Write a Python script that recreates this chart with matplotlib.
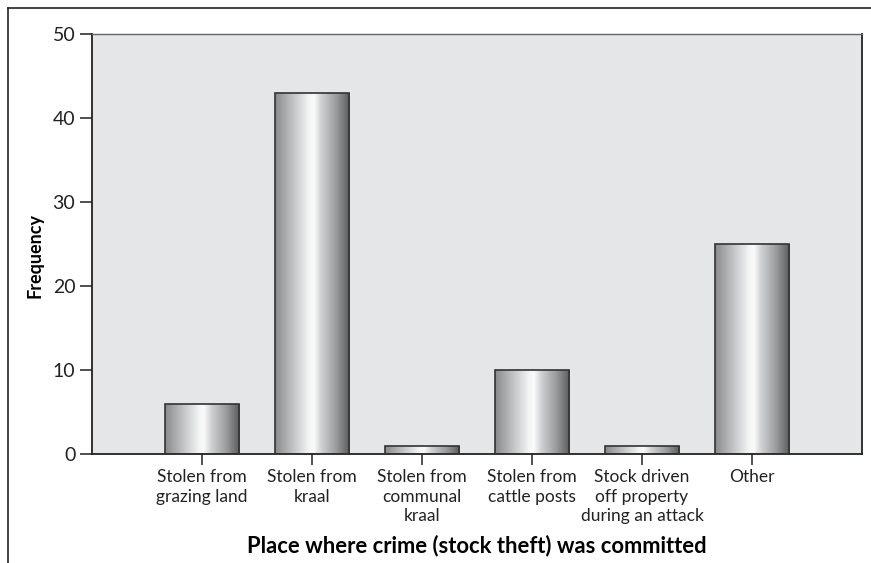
import numpy as np
import matplotlib.pyplot as plt
from matplotlib.colors import LinearSegmentedColormap
from matplotlib.lines import Line2D

categories = ["Stolen from\ngrazing land", "Stolen from\nkraal", "Stolen from\ncommunal\nkraal",
              "Stolen from\ncattle posts", "Stock driven\noff property\nduring an attack", "Other"]
frequency = [6, 43, 1, 10, 1, 25]
y_ticks = [0, 10, 20, 30, 40, 50]

plt.rcParams['font.family'] = ['Lato', 'DejaVu Sans']

fig = plt.figure(figsize=(8.71, 5.63), dpi=100)
ax = fig.add_axes([92 / 871, 1 - 454 / 563, 770 / 871, 420 / 563])
ax.set_facecolor('#e5e6e7')

# cylinder-like shading across each bar
shade = LinearSegmentedColormap.from_list('cyl', [
    (0.0, '#8a8a8c'), (0.25, '#c4c5c7'), (0.45, '#f2f3f3'), (0.52, '#fbfbfb'),
    (0.62, '#cfd0d1'), (0.82, '#9a9b9d'), (1.0, '#5a5b5d')])
grad = np.linspace(0, 1, 256).reshape(1, -1)

x = np.arange(1, len(categories) + 1)
width = 0.68
bars = ax.bar(x, frequency, width=width, color='none', edgecolor='#333333', linewidth=1.2, zorder=3)
for b in bars:
    x0, w, h = b.get_x(), b.get_width(), b.get_height()
    im = ax.imshow(grad, cmap=shade, aspect='auto', extent=(x0, x0 + w, 0, h), zorder=2)
    im.set_clip_path(b)

ax.set_xlim(0, 7)
ax.set_ylim(0, 50)
ax.set_xticks(x)
ax.set_xticklabels(categories, fontsize=12.5, color='#222222', linespacing=1.25)
ax.set_yticks(y_ticks)
ax.set_yticklabels([str(t) for t in y_ticks], fontsize=14, color='#222222')
ax.tick_params(axis='y', length=9, width=1.2, color='#333333', pad=3)
ax.tick_params(axis='x', length=8, width=1.2, color='#333333', pad=3)

for side in ['left', 'bottom', 'right']:
    ax.spines[side].set_color('#222222')
    ax.spines[side].set_linewidth(1.3)
ax.spines['top'].set_color('#666666')
ax.spines['top'].set_linewidth(1.0)

fig.text(35 / 871, 1 - 256 / 563, 'Frequency', fontsize=13, fontweight='bold',
         rotation=90, ha='center', va='center')
fig.text(477 / 871, 1 - 546 / 563, 'Place where crime (stock theft) was committed',
         fontsize=15.8, fontweight='bold', ha='center', va='center')

# outer frame lines (top and left)
fig.add_artist(Line2D([8 / 871, 1.0], [1 - 8 / 563, 1 - 8 / 563], transform=fig.transFigure,
                      color='#222222', linewidth=1.2))
fig.add_artist(Line2D([8 / 871, 8 / 871], [0, 1 - 8 / 563], transform=fig.transFigure,
                      color='#222222', linewidth=1.2))

fig.savefig('out.png', dpi=100)
